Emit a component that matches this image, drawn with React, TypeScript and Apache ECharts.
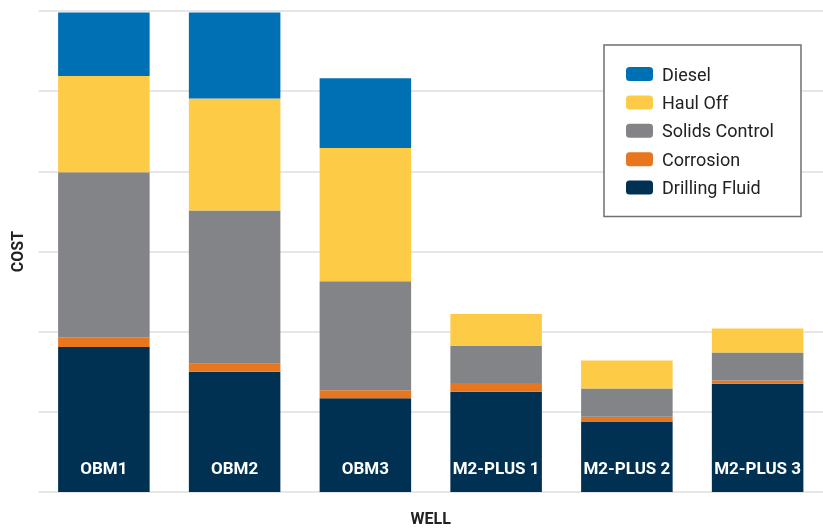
import React, { useEffect, useRef } from "react";
import * as echarts from "echarts";

const categories = ["OBM1", "OBM2", "OBM3", "M2-PLUS 1", "M2-PLUS 2", "M2-PLUS 3"];
const drillingFluid = [1.81, 1.5, 1.17, 1.25, 0.88, 1.35];
const corrosion = [0.12, 0.1, 0.1, 0.11, 0.06, 0.04];
const solidsControl = [2.06, 1.91, 1.36, 0.46, 0.35, 0.35];
const haulOff = [1.2, 1.4, 1.66, 0.4, 0.35, 0.3];
const diesel = [0.79, 1.07, 0.87, 0, 0, 0];
const legendOrder = ["Diesel", "Haul Off", "Solids Control", "Corrosion", "Drilling Fluid"];

const COLORS: Record<string, string> = {
  "Drilling Fluid": "#003153",
  Corrosion: "#e8761e",
  "Solids Control": "#838487",
  "Haul Off": "#fecb46",
  Diesel: "#0070b5",
};

export default function App() {
  const ref = useRef<HTMLDivElement>(null);
  useEffect(() => {
    if (!ref.current) return;
    const chart = echarts.init(ref.current, null, { renderer: "svg" });
    const seriesDefs: [string, number[]][] = [
      ["Drilling Fluid", drillingFluid],
      ["Corrosion", corrosion],
      ["Solids Control", solidsControl],
      ["Haul Off", haulOff],
      ["Diesel", diesel],
    ];
    chart.setOption({
      animation: false,
      textStyle: { fontFamily: "Roboto" },
      grid: { left: 38.5, top: 11, right: -4.5, bottom: 33.5 },
      legend: {
        data: legendOrder,
        orient: "vertical",
        left: 604,
        top: 45,
        itemWidth: 27,
        itemHeight: 14,
        itemGap: 10.4,
        borderColor: "#707070",
        borderWidth: 1.5,
        padding: [20, 27, 20, 22],
        backgroundColor: "#fff",
        textStyle: { fontSize: 18, color: "#222", lineHeight: 18, padding: [0, 0, 0, 4] },
        itemStyle: { borderWidth: 0 },
      },
      xAxis: {
        type: "category",
        data: categories,
        name: "WELL",
        nameLocation: "middle",
        nameGap: 18,
        nameTextStyle: { fontSize: 16, fontWeight: "bold", color: "#222" },
        axisLine: { show: false },
        axisTick: { show: false },
        axisLabel: { show: false },
      },
      yAxis: {
        type: "value",
        min: 0,
        max: 6,
        interval: 1,
        name: "COST",
        nameLocation: "middle",
        nameGap: 13,
        nameTextStyle: { fontSize: 16, fontWeight: "bold", color: "#222" },
        axisLine: { show: false },
        axisTick: { show: false },
        axisLabel: { show: false },
        splitLine: { lineStyle: { color: "#dedede", width: 1.5 } },
      },
      series: seriesDefs.map(([name, data], i) => ({
        name,
        type: "bar",
        stack: "total",
        data,
        barCategoryGap: "30%",
        itemStyle: { color: COLORS[name] },
        label:
          i === 0
            ? {
                show: true,
                position: "insideBottom",
                distance: 16,
                formatter: "{b}",
                color: "#fff",
                fontWeight: "bold",
                fontSize: 17,
                fontFamily: "Roboto",
              }
            : { show: false },
      })),
    });
    return () => chart.dispose();
  }, []);
  return (
    <div
      ref={ref}
      style={{ position: "fixed", left: 0, top: 0, width: 823, height: 531 }}
    />
  );
}
